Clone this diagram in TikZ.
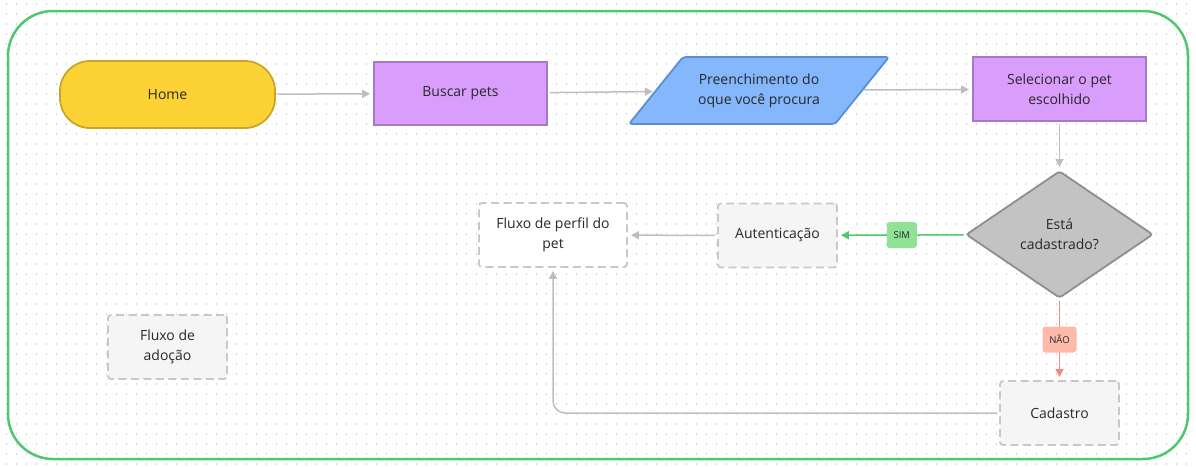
\documentclass[tikz,border=0pt]{standalone}
\usepackage{fontspec}
\setmainfont{Open Sans}
\usetikzlibrary{arrows.meta, shapes.geometric}
\definecolor{ink}{RGB}{40, 40, 40}
\definecolor{griddot}{RGB}{212, 212, 212}
\definecolor{frame}{RGB}{78, 200, 112}
\definecolor{homefill}{RGB}{253, 210, 52}
\definecolor{homeline}{RGB}{200, 166, 44}
\definecolor{violet}{RGB}{217, 157, 251}
\definecolor{violetline}{RGB}{168, 120, 200}
\definecolor{blue}{RGB}{133, 183, 253}
\definecolor{blueline}{RGB}{92, 142, 214}
\definecolor{decfill}{RGB}{195, 195, 195}
\definecolor{decline}{RGB}{142, 142, 142}
\definecolor{dashline}{RGB}{200, 200, 200}
\definecolor{soft}{RGB}{245, 245, 245}
\definecolor{edge}{RGB}{190, 190, 190}
\definecolor{yes}{RGB}{80, 199, 108}
\definecolor{yesfill}{RGB}{143, 226, 150}
\definecolor{no}{RGB}{245, 135, 125}
\definecolor{nofill}{RGB}{253, 186, 170}
\newcommand*{\gap}{3pt}

\begin{document}
\begin{tikzpicture}[x=1pt, y=-1pt, font=\fontsize{14}{20}\selectfont, text=ink,
  stepbox/.style={draw, line width=1.8pt, align=center, inner sep=0pt},
  waitbox/.style={stepbox, draw=dashline, fill=soft, dash pattern=on 8pt off 4.5pt,
    rounded corners=3pt, minimum width=119pt, minimum height=64pt},
  flow/.style={draw=edge, line width=1.5pt, -{Triangle[length=8pt, width=8pt]},
    shorten >=\gap, shorten <=2pt},
  tag/.style={rounded corners=3pt, font=\fontsize{9.5}{11}\selectfont, inner sep=0pt,
    minimum height=26pt}]

  \useasboundingbox (0, 0) rectangle (1196, 466);
  \foreach \y in {4, 14, ..., 464}
    \draw [griddot, line width=1.3pt, dash pattern=on 1.3pt off 8.7pt, dash phase=-6pt]
      (0, \y) -- (1196, \y);

  \draw [frame, line width=2.5pt, rounded corners=45pt] (8, 11) rectangle (1188, 459);

  \node[stepbox, draw=homeline, fill=homefill, rounded corners=30pt,
    minimum width=215pt, minimum height=67pt] (home) at (167.5, 94.5) {Home};
  \node[stepbox, draw=violetline, fill=violet, minimum width=173pt,
    minimum height=63pt] (buscar) at (460.5, 93.5) {Buscar pets};
  \fill [blue, draw=blueline, line width=1.8pt, rounded corners=3pt]
    (629, 124) -- (683, 57) -- (889, 57) -- (835, 124) -- cycle;
  \node[align=center, minimum width=206pt, minimum height=67pt, inner sep=0pt]
    (preench) at (759, 90.5) {Preenchimento do\\oque você procura};
  \node[stepbox, draw=violetline, fill=violet, minimum width=173pt,
    minimum height=64pt] (selec) at (1059.5, 89) {Selecionar o pet\\escolhido};
  \node[stepbox, draw=decline, fill=decfill, diamond, rounded corners=3pt,
    minimum width=187pt, minimum height=127pt] (cadastrado) at (1059.5, 234.5)
    {Está\\cadastrado?};

  \node[waitbox] (auten) at (777.5, 235.5) {Autenticação};
  \node[waitbox, fill=white, minimum width=148pt] (perfil) at (553, 235)
    {Fluxo de perfil do\\pet};
  \node[waitbox] (adocao) at (167.5, 347) {Fluxo de\\adoção};
  \node[waitbox] (cadastro) at (1059.5, 413) {Cadastro};

  \draw[flow] (home) -- (buscar);
  \draw[flow] (buscar) -- (preench);
  \draw[flow] (preench) -- (selec);
  \draw[flow] (selec) -- (cadastrado);
  \draw[flow, draw=yes] (cadastrado) -- (auten)
    node[midway, tag, fill=yesfill, minimum width=30pt] (sim) {SIM};
  \draw[flow] (auten) -- (perfil);
  \draw[flow, draw=no] (cadastrado) -- (cadastro)
    node[midway, tag, fill=nofill, minimum width=34pt] (nao) {NÃO};
  \draw[flow, rounded corners=12pt] (cadastro.west) -| (perfil.south);

\end{tikzpicture}
\end{document}
